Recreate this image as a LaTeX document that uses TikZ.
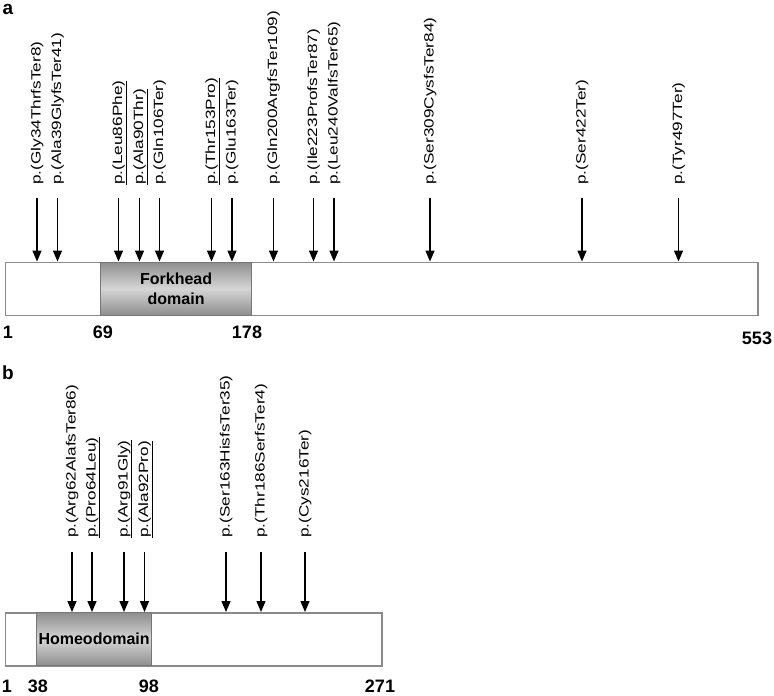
\documentclass[tikz,border=0pt]{standalone}
\usepackage{graphicx}
\usepackage{fontspec}
\setmainfont{Liberation Sans}
\usetikzlibrary{arrows.meta}
\definecolor{barc}{HTML}{8A8A8A}
\definecolor{domc}{HTML}{767676}
\definecolor{domedge}{HTML}{8E8E8E}
\definecolor{dommid}{HTML}{D6D6D6}
\newcommand{\sqz}[1]{\scalebox{1}[0.78]{#1}}
\begin{document}
\begin{tikzpicture}[x=1pt,y=-1pt,
  lab/.style={rotate=90,anchor=west,inner sep=0pt,text height=10pt,text depth=3pt,
    font=\fontsize{17.2}{20}\selectfont},
  arr/.style={line width=1.3pt,-{Triangle[width=9pt,length=11pt]}},
  bar/.style={draw=barc,line width=1.5pt,fill=white,inner sep=0pt,anchor=north west},
  dom/.style={draw=domc,line width=1.2pt,top color=domedge,bottom color=domedge,middle color=dommid,
    inner sep=0pt,anchor=north west,align=center,font=\fontsize{16}{20}\selectfont\bfseries},
  num/.style={inner sep=0pt,font=\fontsize{18}{20}\selectfont\bfseries},
  panel/.style={inner sep=0pt,font=\fontsize{19}{20}\selectfont\bfseries}]
\useasboundingbox (0,0) rectangle (774,696);

% panel labels
\node[panel] (pa) at (8,9) {a};
\node[panel] (pb) at (8,373) {b};

% ---------- panel a ----------
\node[bar,minimum width=752.5pt,minimum height=53pt] (barA) at (4.5,261.5) {};
\node[dom,minimum width=151pt,minimum height=53pt] (domA) at (100,261.5) {Forkhead\\domain};

\foreach \x/\n/\t in {
  37/1/{p.(Gly34ThrfsTer8)},
  57.5/2/{p.(Ala39GlyfsTer41)},
  118.5/3/{\underline{p.(Leu86Phe)}},
  139.5/4/{\underline{p.(Ala90Thr)}},
  159.5/5/{p.(Gln106Ter)},
  211.5/6/{\underline{p.(Thr153Pro)}},
  232/7/{p.(Glu163Ter)},
  273.5/8/{p.(Gln200ArgfsTer109)},
  313.5/9/{p.(Ile223ProfsTer87)},
  334/10/{p.(Leu240ValfsTer65)},
  430/11/{p.(Ser309CysfsTer84)},
  582/12/{p.(Ser422Ter)},
  678.5/13/{p.(Tyr497Ter)}} {
  \node[lab] (la\n) at (\x,185) {\sqz{\t}};
  \coordinate (sa\n) at (\x,198);
  \coordinate (ta\n) at (\x,261.5);
  \draw[arr] (sa\n) -- (ta\n);
}

\node[num] (na1) at (8,332) {1};
\node[num] (na69) at (103,332) {69};
\node[num] (na178) at (247,332) {178};
\node[num] (na553) at (757,338) {553};

% ---------- panel b ----------
\node[bar,minimum width=376.5pt,minimum height=53pt] (barB) at (4.5,612) {};
\node[dom,minimum width=115pt,minimum height=53pt] (domB) at (36,612) {Homeodomain};

\foreach \x/\n/\t in {
  72/1/{p.(Arg62AlafsTer86)},
  92/2/{\underline{p.(Pro64Leu)}},
  124/3/{\underline{p.(Arg91Gly)}},
  144.5/4/{\underline{p.(Ala92Pro)}},
  226/5/{p.(Ser163HisfsTer35)},
  261/6/{p.(Thr186SerfsTer4)},
  305/7/{p.(Cys216Ter)}} {
  \node[lab] (lb\n) at (\x,538) {\sqz{\t}};
  \coordinate (sb\n) at (\x,552);
  \coordinate (tb\n) at (\x,612);
  \draw[arr] (sb\n) -- (tb\n);
}

\node[num] (nb1) at (7,686) {1};
\node[num] (nb38) at (38,686) {38};
\node[num] (nb98) at (149,686) {98};
\node[num] (nb271) at (380,686) {271};
\end{tikzpicture}
\end{document}
